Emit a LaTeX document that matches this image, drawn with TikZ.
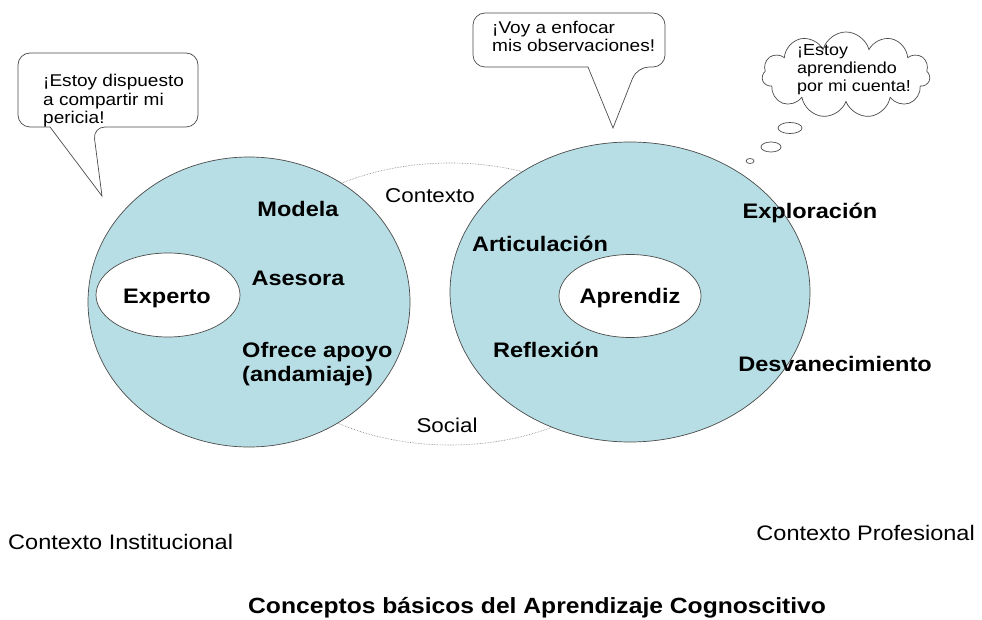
\documentclass[tikz,border=0pt]{standalone}
\usepackage{fontspec}
\setmainfont{Liberation Sans}[FakeStretch=1.12]
\usetikzlibrary{shapes.geometric, shapes.symbols}

\definecolor{circfill}{RGB}{183,222,228}
\definecolor{edgegray}{RGB}{75,75,75}

\tikzset{
  actword/.style={font=\fontsize{21}{24}\selectfont\bfseries, inner sep=0pt},
  ctxword/.style={font=\fontsize{20}{23}\selectfont, inner sep=0pt},
  saytext/.style={font=\fontsize{17}{18.5}\selectfont, align=left, inner sep=0pt},
  bubble/.style={draw=edgegray, fill=white, line width=0.7pt},
  ring/.style={ellipse, draw=edgegray, fill=circfill, line width=0.7pt, inner sep=0pt},
  core/.style={ellipse, draw=edgegray, fill=white, line width=0.7pt, inner sep=0pt},
  ctxring/.style={ellipse, draw=gray, densely dotted, line width=0.6pt, inner sep=0pt},
}

\begin{document}
\begin{tikzpicture}[x=1pt, y=-1pt]
    \useasboundingbox[fill=white] (0,0) rectangle (982,620);

    \node[ctxring, minimum width=420, minimum height=282] (ctx) at (450,304) {};

    \node[ring, minimum width=322, minimum height=290] (tutor) at (249,302) {};
    \node[ring, minimum width=360, minimum height=300] (pupil) at (630,292) {};

    \node[core, minimum width=144, minimum height=84] (expcore) at (168,295) {};
    \node[core, minimum width=142, minimum height=83] (aprcore) at (630,296) {};

    \node[actword, anchor=base] (experto)  at (167,303) {Experto};
    \node[actword, anchor=base] (modela)   at (298,217) {Modela};
    \node[actword, anchor=base] (asesora)  at (298,286) {Asesora};
    \node[actword, anchor=base west, align=left] (apoyo) at (242,381) {Ofrece apoyo\\(andamiaje)};

    \node[actword, anchor=base] (aprendiz) at (630,303) {Aprendiz};
    \node[actword, anchor=base] (artic)    at (540,252) {Articulación};
    \node[actword, anchor=base] (reflex)   at (546,357) {Reflexión};
    \node[actword, anchor=base] (explor)   at (810,219) {Exploración};
    \node[actword, anchor=base] (desvan)   at (835,371) {Desvanecimiento};

    \node[ctxword, anchor=base] (contexto) at (430,203) {Contexto};
    \node[ctxword, anchor=base] (social)   at (447,432) {Social};

    % bocadillos
    \draw[bubble, rounded corners=12] (100,53) -- (198,53) -- (198,127) -- (93,127) [sharp corners] -- (102,196) -- (50,127) [rounded corners=12] -- (18,127) -- (18,53) -- cycle;
    \node[saytext, anchor=base west] (sayexp) at (43,124) {¡Estoy dispuesto\\a compartir mi\\pericia!};

    \draw[bubble, rounded corners=12] (560,13) -- (665,13) -- (665,67) -- (637,67) [sharp corners] -- (613,128) -- (588,67) [rounded corners=12] -- (473,67) -- (473,13) -- cycle;
    \node[saytext, anchor=base west] (sayapr) at (492,52) {¡Voy a enfocar\\mis observaciones!};

    \node[cloud, draw=edgegray, fill=white, line width=0.7pt, cloud puffs=11, aspect=2, minimum width=168, minimum height=86, inner sep=0pt] (thought) at (846,75) {};
    \node[saytext, font=\fontsize{16}{18}\selectfont, anchor=base west] (saycloud) at (797,92) {¡Estoy\\aprendiendo\\por mi cuenta!};
    \node[core, minimum width=24, minimum height=11] (dota) at (790,128) {};
    \node[core, minimum width=20, minimum height=10] (dotb) at (771,147) {};
    \node[core, minimum width=8, minimum height=5] (dotc) at (750,161) {};

    \node[ctxword, font=\fontsize{21}{24}\selectfont, anchor=base west] (instit) at (8,549) {Contexto Institucional};
    \node[ctxword, font=\fontsize{21}{24}\selectfont, anchor=base east] (profes) at (975,540) {Contexto Profesional};

    \node[actword, font=\fontsize{22}{24}\selectfont\bfseries, anchor=base west] (titulo) at (248,613) {Conceptos básicos del Aprendizaje Cognoscitivo};
\end{tikzpicture}
\end{document}
